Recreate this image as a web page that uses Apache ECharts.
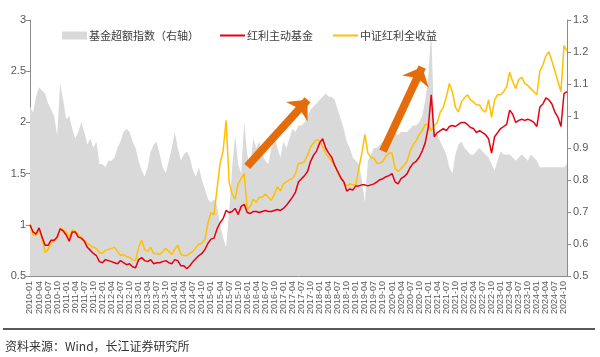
<!DOCTYPE html>
<html>
<head>
<meta charset="utf-8">
<script src="https://cdn.jsdelivr.net/npm/echarts@6/dist/echarts.min.js"></script>
<style>
html,body{margin:0;padding:0;background:#fff;}
#c{width:600px;height:357px;}
</style>
</head>
<body>
<div id="c"></div>
<script>
// Monthly categories 2010-01 .. 2024-11
var categories = [];
for (var y = 2010; y <= 2024; y++) {
  for (var m = 1; m <= 12; m++) {
    if (y === 2024 && m > 11) break;
    categories.push(y + '-' + (m < 10 ? '0' + m : '' + m));
  }
}

// 基金超额指数（右轴）
var excessIndex = [
  1.03,1.01,1.06,1.09,1.08,1.07,1.04,1.02,1.00,0.94,1.10,1.05,
  0.99,1.00,0.96,0.93,0.95,0.98,0.95,0.91,0.93,0.90,0.92,0.85,
  0.85,0.84,0.86,0.86,0.87,0.90,0.92,0.95,0.96,0.95,0.92,0.90,
  0.86,0.83,0.81,0.84,0.89,0.91,0.92,0.88,0.84,0.82,0.86,0.90,
  0.95,0.90,0.86,0.88,0.89,0.87,0.83,0.81,0.84,0.80,0.77,0.74,
  0.73,0.74,0.72,0.66,0.62,0.59,0.70,0.84,0.94,0.85,0.82,0.98,
  0.88,0.84,0.93,0.90,0.92,0.88,0.86,0.85,0.90,0.94,0.90,0.87,
  0.92,0.90,0.93,0.96,0.95,0.97,0.97,0.98,1.00,1.02,1.03,1.04,
  1.05,1.06,1.07,1.06,1.06,1.05,1.02,0.99,0.96,0.92,0.90,0.87,
  0.86,0.85,0.80,0.73,0.86,0.88,0.90,0.90,0.91,0.92,0.92,0.95,
  0.96,0.95,0.94,0.95,0.95,0.95,0.96,0.97,0.97,0.98,1.00,1.05,
  1.12,1.27,0.96,0.94,0.92,0.90,0.88,0.84,0.82,0.88,0.91,0.92,
  0.90,0.89,0.88,0.88,0.89,0.90,0.89,0.88,0.87,0.85,0.83,0.86,
  0.89,0.88,0.88,0.88,0.87,0.86,0.87,0.88,0.87,0.86,0.88,0.87,
  0.86,0.84,0.84,0.84,0.84,0.84,0.84,0.84,0.84,0.84,0.85
];

// 红利主动基金
var activeFund = [
  1.00,0.93,0.91,0.97,0.88,0.80,0.80,0.85,0.85,0.88,0.96,0.94,
  0.90,0.84,0.93,0.93,0.88,0.87,0.84,0.78,0.75,0.72,0.70,0.64,
  0.63,0.66,0.65,0.64,0.63,0.62,0.65,0.63,0.61,0.62,0.59,0.58,
  0.66,0.68,0.65,0.64,0.66,0.62,0.63,0.63,0.64,0.65,0.63,0.62,
  0.66,0.65,0.60,0.60,0.57,0.60,0.64,0.67,0.70,0.72,0.76,0.82,
  0.86,0.87,0.96,1.02,1.06,1.14,1.12,1.13,1.16,1.10,1.18,1.20,
  1.12,1.11,1.13,1.13,1.12,1.13,1.14,1.13,1.13,1.14,1.15,1.14,
  1.16,1.19,1.23,1.27,1.32,1.42,1.45,1.48,1.52,1.62,1.68,1.72,
  1.80,1.84,1.75,1.70,1.66,1.58,1.52,1.46,1.42,1.33,1.35,1.34,
  1.38,1.38,1.39,1.39,1.38,1.39,1.40,1.42,1.44,1.45,1.47,1.48,
  1.50,1.42,1.40,1.45,1.47,1.50,1.56,1.60,1.62,1.66,1.72,1.80,
  1.95,2.27,1.86,1.90,1.92,1.94,1.92,1.96,1.97,1.96,1.98,2.00,
  2.00,1.98,1.95,1.94,1.90,1.92,1.90,1.88,1.84,1.70,1.86,1.90,
  1.94,1.96,1.98,2.12,2.08,2.00,2.02,2.03,2.02,2.03,2.02,2.00,
  1.96,2.15,2.18,2.24,2.22,2.18,2.10,2.05,1.96,2.28,2.30
];

// 中证红利全收益
var dividendIndex = [
  1.00,0.90,0.90,0.95,0.86,0.73,0.76,0.83,0.84,0.87,0.97,0.95,
  0.93,0.88,0.95,0.94,0.90,0.88,0.85,0.82,0.80,0.78,0.77,0.73,
  0.72,0.75,0.76,0.77,0.78,0.74,0.70,0.71,0.69,0.68,0.66,0.65,
  0.78,0.85,0.76,0.74,0.78,0.72,0.72,0.71,0.74,0.77,0.74,0.71,
  0.76,0.80,0.71,0.70,0.70,0.72,0.74,0.78,0.81,0.82,0.86,1.02,
  1.12,1.10,1.35,1.60,1.72,2.02,1.42,1.30,1.25,1.40,1.45,1.50,
  1.15,1.18,1.25,1.22,1.27,1.27,1.30,1.27,1.24,1.30,1.37,1.33,
  1.40,1.42,1.44,1.45,1.50,1.60,1.60,1.62,1.68,1.76,1.80,1.83,
  1.82,1.76,1.70,1.66,1.62,1.58,1.52,1.45,1.42,1.38,1.40,1.39,
  1.39,1.55,1.70,1.88,1.70,1.66,1.65,1.60,1.60,1.62,1.67,1.70,
  1.70,1.55,1.52,1.55,1.58,1.62,1.72,1.78,1.82,1.88,1.92,1.98,
  1.98,1.92,1.97,2.00,2.10,2.15,2.25,2.38,2.30,2.15,2.10,2.20,
  2.24,2.27,2.22,2.20,2.17,2.17,2.12,2.10,2.22,2.05,2.22,2.27,
  2.27,2.30,2.35,2.49,2.40,2.33,2.42,2.44,2.38,2.36,2.33,2.30,
  2.27,2.50,2.56,2.65,2.69,2.60,2.50,2.40,2.30,2.75,2.70
];

var leftTicks = { min: 0.5, max: 3, interval: 0.5 };
var rightTicks = { min: 0.5, max: 1.3, interval: 0.1 };

// Annotation arrows (data coordinates: category, left-axis value)
var arrows = [
  [['2016-01', 1.57], ['2017-09', 2.22]],
  [['2019-10', 1.72], ['2020-11', 2.54]]
];

var seriesNames = ['基金超额指数（右轴）', '红利主动基金', '中证红利全收益'];

var chart = echarts.init(document.getElementById('c'), null, { renderer: 'canvas' });
var fontCN = '"Noto Sans CJK SC", "Liberation Sans", sans-serif';
var fontNum = '"Liberation Sans", Arial, sans-serif';
var axisColor = '#8c8c8c';
var labelColor = '#595959';

function legendAt(left, item) {
  return {
    left: left, top: 25, itemGap: 0, itemWidth: 25, itemHeight: 8,
    textStyle: { fontSize: 11, color: '#404040', fontFamily: fontCN, padding: [0, 0, 0, -3] },
    selectedMode: false,
    data: [item]
  };
}

chart.setOption({
  animation: false,
  backgroundColor: '#fff',
  textStyle: { fontFamily: fontCN },
  legend: [
    legendAt(57, { name: seriesNames[0], icon: 'rect', itemStyle: { color: '#d9d9d9' } }),
    legendAt(214, { name: seriesNames[1], itemStyle: { opacity: 0 } }),
    legendAt(327, { name: seriesNames[2], itemStyle: { opacity: 0 } })
  ],
  grid: { left: 30, right: 33, top: 20, bottom: 81, containLabel: false },
  xAxis: {
    type: 'category', data: categories, boundaryGap: false,
    axisLine: { lineStyle: { color: axisColor, width: 1 } },
    axisTick: { interval: 2, inside: true, length: 3, lineStyle: { color: axisColor } },
    axisLabel: { interval: 2, rotate: 90, fontSize: 9, color: labelColor, margin: 5, fontFamily: fontNum }
  },
  yAxis: [
    {
      type: 'value', position: 'left',
      min: leftTicks.min, max: leftTicks.max, interval: leftTicks.interval,
      splitLine: { show: false },
      axisLine: { show: true, lineStyle: { color: axisColor } },
      axisTick: { show: true, length: 4, lineStyle: { color: axisColor } },
      axisLabel: { fontSize: 11, color: labelColor, margin: 4, fontFamily: fontNum }
    },
    {
      type: 'value', position: 'right',
      min: rightTicks.min, max: rightTicks.max, interval: rightTicks.interval,
      splitLine: { show: false },
      axisLine: { show: true, lineStyle: { color: axisColor } },
      axisTick: { show: true, length: 4, lineStyle: { color: axisColor } },
      axisLabel: { fontSize: 11, color: labelColor, margin: 6, fontFamily: fontNum,
        formatter: function (v) { return (Math.round(v * 10) / 10).toString(); } }
    }
  ],
  series: [
    {
      name: seriesNames[0], type: 'line', yAxisIndex: 1, data: excessIndex,
      symbol: 'none', lineStyle: { width: 0, color: '#d9d9d9' },
      itemStyle: { color: '#d9d9d9' },
      areaStyle: { color: '#d9d9d9', opacity: 1 }, z: 1
    },
    {
      name: seriesNames[1], type: 'line', yAxisIndex: 0, data: activeFund,
      symbol: 'none', lineStyle: { width: 1.5, color: '#e60012' },
      itemStyle: { color: '#e60012' }, z: 3,
      markLine: {
        silent: true, animation: false,
        symbol: ['none', 'arrow'], symbolSize: [22, 16],
        label: { show: false },
        lineStyle: { color: '#e46c0a', width: 8, type: 'solid', opacity: 1 },
        emphasis: { disabled: true },
        data: arrows.map(function (a) { return [{ coord: a[0] }, { coord: a[1] }]; })
      }
    },
    {
      name: seriesNames[2], type: 'line', yAxisIndex: 0, data: dividendIndex,
      symbol: 'none', lineStyle: { width: 1.5, color: '#ffc000' },
      itemStyle: { color: '#ffc000' }, z: 2
    }
  ],
  graphic: [
    { type: 'line', shape: { x1: 3, y1: 329, x2: 595, y2: 329 },
      style: { stroke: '#595959', lineWidth: 2 } },
    { type: 'text', left: 5, top: 340,
      style: { text: '资料来源：Wind，长江证券研究所', fontSize: 12, fill: '#333', fontFamily: fontCN } }
  ]
});
</script>
</body>
</html>
